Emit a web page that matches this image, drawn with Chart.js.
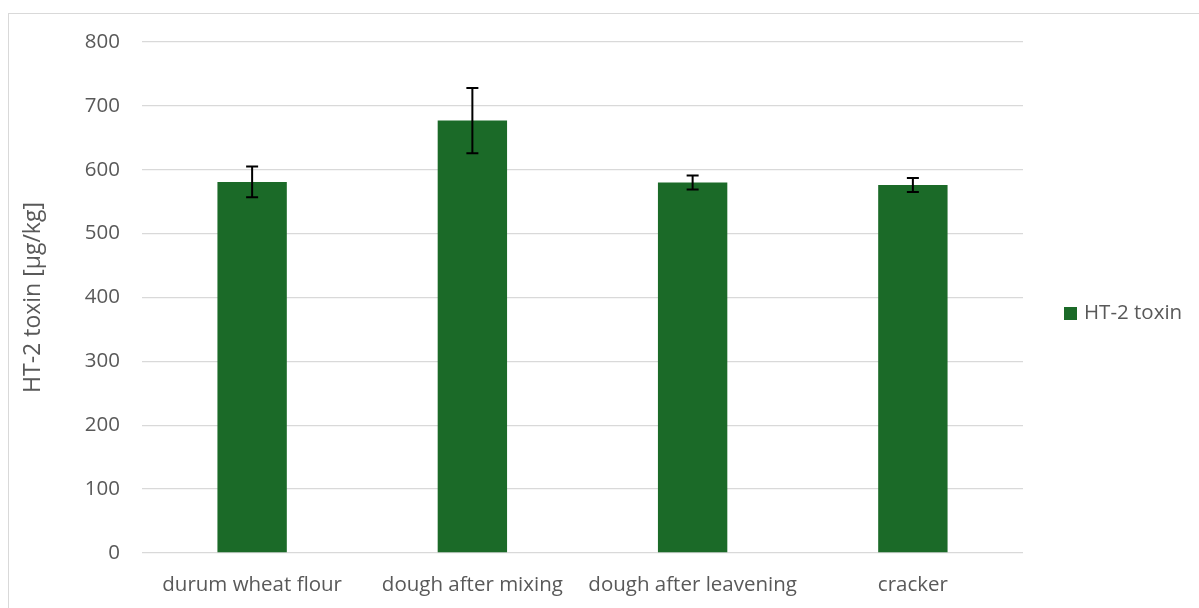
<!DOCTYPE html>
<html lang="en">
<head>
  <meta charset="UTF-8" />
  <title>HT-2 toxin</title>
  <script src="https://cdn.jsdelivr.net/npm/chart.js"></script>
  <style>
    html, body { margin: 0; padding: 0; background: #fff; }
    .wrap { position: relative; width: 1199px; height: 608px; overflow: hidden; }
    .frame { position: absolute; left: 8px; top: 13px; width: 1300px; height: 700px; border: 1.5px solid #d9d9d9; }
    canvas { position: absolute; left: 0; top: 0; }
  </style>
</head>
<body>
  <div class="wrap">
    <div class="frame"></div>
    <canvas id="toxinChart" width="1199" height="608"></canvas>
  </div>

  <script>
    // === Data ===
    const categories = ["durum wheat flour", "dough after mixing", "dough after leavening", "cracker"];
    const toxinValues = [581, 677, 580, 576];
    const toxinErrors = [24, 51, 11, 11];
    const yTicks = [0, 100, 200, 300, 400, 500, 600, 700, 800];

    const barColor = "#1b6a28";
    const textColor = "#595959";
    const gridColor = "#d9d9d9";
    const fontFamily = "'Open Sans', sans-serif";

    // error bars drawn on top of each bar
    const errorBars = {
      id: "errorBars",
      afterDatasetsDraw(chart) {
        const { ctx, scales: { y } } = chart;
        const meta = chart.getDatasetMeta(0);
        ctx.save();
        ctx.strokeStyle = "#000";
        ctx.lineWidth = 2;
        meta.data.forEach((bar, i) => {
          const top = y.getPixelForValue(toxinValues[i] + toxinErrors[i]);
          const bot = y.getPixelForValue(toxinValues[i] - toxinErrors[i]);
          ctx.beginPath();
          ctx.moveTo(bar.x, top);
          ctx.lineTo(bar.x, bot);
          ctx.moveTo(bar.x - 6, top);
          ctx.lineTo(bar.x + 6, top);
          ctx.moveTo(bar.x - 6, bot);
          ctx.lineTo(bar.x + 6, bot);
          ctx.stroke();
        });
        ctx.restore();
      }
    };

    // legend on the right, vertically centred on the plot
    const sideLegend = {
      id: "sideLegend",
      afterDraw(chart) {
        const { ctx, chartArea } = chart;
        const ds = chart.data.datasets[0];
        const cy = (chartArea.top + chartArea.bottom) / 2 + 16;
        ctx.save();
        ctx.fillStyle = ds.backgroundColor;
        ctx.fillRect(1064, cy - 6.5, 13, 13);
        ctx.fillStyle = textColor;
        ctx.font = "20.5px " + fontFamily;
        ctx.textBaseline = "middle";
        ctx.textAlign = "left";
        ctx.fillText(ds.label, 1084, cy);
        ctx.restore();
      }
    };

    const ctx = document.getElementById("toxinChart").getContext("2d");
    new Chart(ctx, {
      type: "bar",
      data: {
        labels: categories,
        datasets: [{
          label: "HT-2 toxin",
          data: toxinValues,
          backgroundColor: barColor,
          barPercentage: 0.315,
          categoryPercentage: 1
        }]
      },
      options: {
        responsive: false,
        animation: false,
        layout: { padding: { top: 42, right: 176, left: 0, bottom: 0 } },
        plugins: {
          legend: { display: false },
          tooltip: { enabled: false }
        },
        scales: {
          x: {
            grid: { display: false },
            border: { display: false },
            ticks: {
              color: textColor,
              font: { family: fontFamily, size: 20.5 },
              padding: 12,
              maxRotation: 0
            },
            afterFit(scale) { scale.height = 55; }
          },
          y: {
            min: 0,
            max: 800,
            afterBuildTicks(scale) { scale.ticks = yTicks.map(v => ({ value: v })); },
            grid: { color: gridColor, lineWidth: 1.3, drawTicks: false },
            border: { display: false },
            ticks: {
              color: textColor,
              font: { family: fontFamily, size: 20.5 },
              padding: 22
            },
            title: {
              display: true,
              text: "HT-2 toxin [µg/kg]",
              color: textColor,
              font: { family: fontFamily, size: 23 },
              padding: { top: 20, bottom: 0 }
            },
            afterFit(scale) { scale.width = 142; }
          }
        }
      },
      plugins: [errorBars, sideLegend]
    });
  </script>
</body>
</html>
